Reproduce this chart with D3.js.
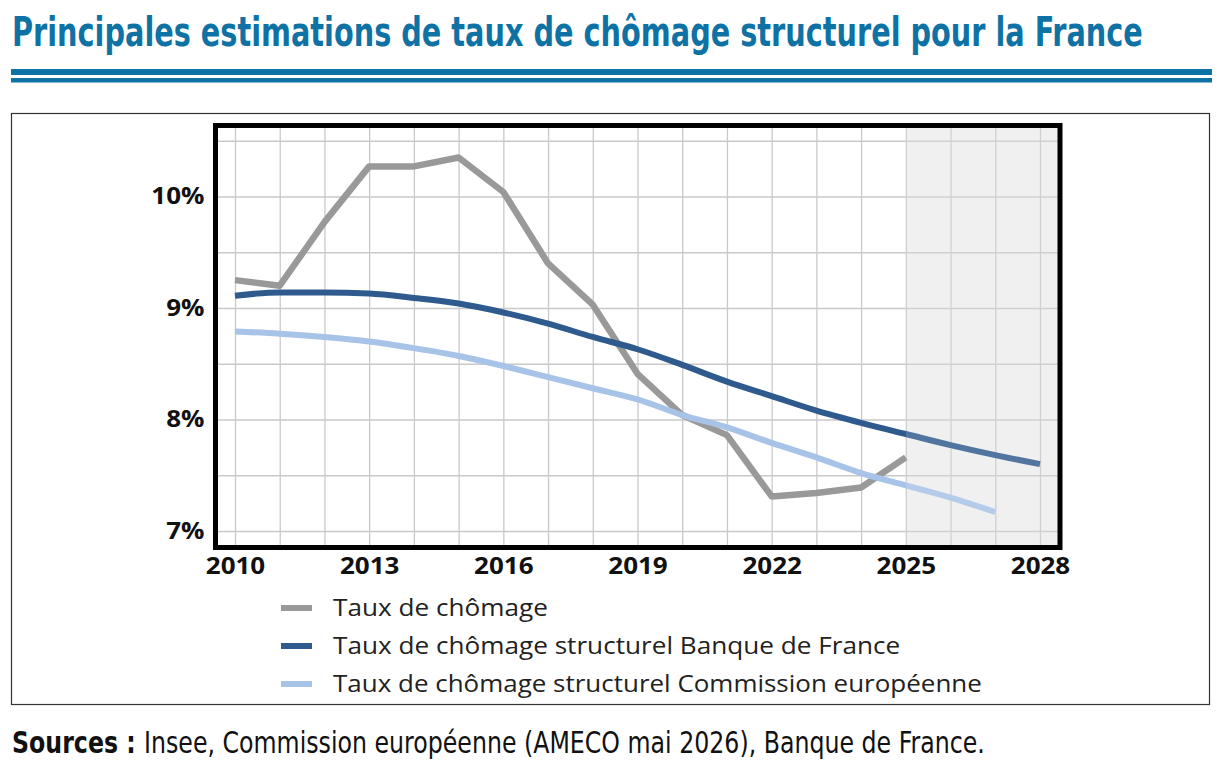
<!DOCTYPE html>
<html lang="fr">
<head>
<meta charset="utf-8">
<script src="https://cdn.jsdelivr.net/npm/d3@7"></script>
<style>
  body { margin: 0; background: #fff; }
  svg { display: block; }
</style>
</head>
<body>
<div id="chart"></div>
<script>
// data (values in %)
const annees = [2010, 2011, 2012, 2013, 2014, 2015, 2016, 2017, 2018, 2019, 2020, 2021, 2022, 2023, 2024, 2025, 2026, 2027, 2028];
const tauxChomage = [9.25, 9.20, 9.77, 10.27, 10.27, 10.35, 10.04, 9.40, 9.03, 8.41, 8.04, 7.86, 7.31, 7.34, 7.39, 7.66];
const structurelBdF = [9.11, 9.14, 9.14, 9.13, 9.09, 9.04, 8.96, 8.86, 8.74, 8.63, 8.49, 8.34, 8.21, 8.08, 7.97, 7.87, 7.77, 7.68, 7.60];
const structurelCE = [8.79, 8.77, 8.74, 8.70, 8.64, 8.57, 8.48, 8.38, 8.28, 8.18, 8.04, 7.93, 7.79, 7.66, 7.52, 7.41, 7.30, 7.17];
const xTicks = [2010, 2013, 2016, 2019, 2022, 2025, 2028];
const yTicks = [7, 8, 9, 10];
const yGrid = [7, 7.5, 8, 8.5, 9, 9.5, 10, 10.5];
const debutPrevision = 2025;

const titre = "Principales estimations de taux de chômage structurel pour la France";
const seriesNoms = ["Taux de chômage", "Taux de chômage structurel Banque de France", "Taux de chômage structurel Commission européenne"];
const seriesCouleurs = ["#999999", "#2e5a8e", "#a7c3e7"];

const W = 1228, H = 778;
const frame = { left: 215.5, right: 1060, top: 125.5, bottom: 547.5 };
const condensed = "'Liberation Sans Narrow', 'DejaVu Sans Condensed', sans-serif";

const svg = d3.select("#chart").append("svg").attr("width", W).attr("height", H);

// squeeze/stretch a text horizontally so it spans `width` px
function fitWidth(g, text, width) {
    const w = text.node().getComputedTextLength();
    const t = g.attr("transform") || "";
    g.attr("transform", t + " scale(" + (width / w) + ",1)");
}

// title + double rule
const gTitre = svg.append("g").attr("transform", "translate(12,46)");
const tTitre = gTitre.append("text")
    .style("font-family", condensed)
    .style("font-weight", "bold").style("font-size", "41px")
    .style("fill", "#0f72a5")
    .text(titre);
fitWidth(gTitre, tTitre, 1131);
svg.append("rect").attr("x", 11).attr("y", 69).attr("width", 1201).attr("height", 6).attr("fill", "#0f72a5");
svg.append("rect").attr("x", 11).attr("y", 78).attr("width", 1201).attr("height", 4.5).attr("fill", "#0f72a5");

// outer box
svg.append("rect").attr("x", 11.5).attr("y", 113.5).attr("width", 1198).attr("height", 591)
    .attr("fill", "none").attr("stroke", "#333").attr("stroke-width", 1.2);

// scales
const x = d3.scaleLinear().domain([2010, 2028]).range([235, 1040]);
const y = d3.scaleLinear().domain([7, 10]).range([531, 196.5]);

// forecast shading
svg.append("rect")
    .attr("x", x(debutPrevision)).attr("y", frame.top)
    .attr("width", frame.right - x(debutPrevision)).attr("height", frame.bottom - frame.top)
    .attr("fill", "#efefef");

// grid
svg.append("g").attr("transform", "translate(0," + frame.bottom + ")")
    .call(d3.axisBottom(x).tickValues(annees).tickSize(-(frame.bottom - frame.top)).tickFormat(""))
    .call(g => g.select(".domain").remove())
    .call(g => g.selectAll("line").attr("stroke", "#c9c9c9").attr("stroke-width", 1.3));
svg.append("g").attr("transform", "translate(" + frame.left + ",0)")
    .call(d3.axisLeft(y).tickValues(yGrid).tickSize(-(frame.right - frame.left)).tickFormat(""))
    .call(g => g.select(".domain").remove())
    .call(g => g.selectAll("line").attr("stroke", "#c9c9c9").attr("stroke-width", 1.3));

// series
const series = [
    { vals: tauxChomage, curve: d3.curveLinear, w: 6.5 },
    { vals: structurelBdF, curve: d3.curveMonotoneX, w: 6 },
    { vals: structurelCE, curve: d3.curveMonotoneX, w: 6 }
];
series.forEach((s, i) => {
    const line = d3.line().x((d, j) => x(annees[j])).y(d => y(d)).curve(s.curve);
    svg.append("path")
        .datum(s.vals)
        .attr("d", line)
        .attr("fill", "none")
        .attr("stroke", seriesCouleurs[i])
        .attr("stroke-width", s.w)
        .attr("stroke-linejoin", "round");
});

// forecast veil (lines look lighter there)
svg.append("rect")
    .attr("x", x(debutPrevision)).attr("y", frame.top)
    .attr("width", frame.right - x(debutPrevision)).attr("height", frame.bottom - frame.top)
    .attr("fill", "#f2f2f2").attr("opacity", 0.18);

// thick frame
svg.append("rect")
    .attr("x", frame.left).attr("y", frame.top)
    .attr("width", frame.right - frame.left).attr("height", frame.bottom - frame.top)
    .attr("fill", "none").attr("stroke", "#000").attr("stroke-width", 5);

// axes labels (the reference glyphs are a bit wider than Open Sans)
const yAxis = svg.append("g").attr("transform", "translate(" + frame.left + ",0)")
    .call(d3.axisLeft(y).tickValues(yTicks).tickSize(0).tickPadding(11).tickFormat(d => d + "%"));
yAxis.select(".domain").remove();
yAxis.selectAll("text")
    .style("font-family", "'Open Sans', sans-serif").style("font-weight", "bold")
    .style("font-size", "23px").attr("fill", "#111")
    .each(function () { this.setAttribute("textLength", this.getComputedTextLength() * 1.13); })
    .attr("lengthAdjust", "spacingAndGlyphs");

const xAxis = svg.append("g").attr("transform", "translate(0," + frame.bottom + ")")
    .call(d3.axisBottom(x).tickValues(xTicks).tickSize(0).tickPadding(10).tickFormat(d3.format("d")));
xAxis.select(".domain").remove();
xAxis.selectAll("text")
    .style("font-family", "'Open Sans', sans-serif").style("font-weight", "bold")
    .style("font-size", "23px").attr("fill", "#111")
    .each(function () { this.setAttribute("textLength", this.getComputedTextLength() * 1.13); })
    .attr("lengthAdjust", "spacingAndGlyphs");

// legend
const legend = svg.append("g").attr("transform", "translate(281,608)");
seriesNoms.forEach((nom, i) => {
    const row = legend.append("g").attr("transform", "translate(0," + (i * 38) + ")");
    row.append("line").attr("x1", 0).attr("x2", 31).attr("y1", 0).attr("y2", 0)
        .attr("stroke", seriesCouleurs[i]).attr("stroke-width", 6);
    const gt = row.append("g").attr("transform", "translate(52,0)");
    const t = gt.append("text").attr("dy", "0.35em")
        .style("font-family", "'Open Sans', sans-serif").style("font-size", "24px")
        .attr("fill", "#222")
        .text(nom);
    // longest label spans 333 -> 982 in the reference
    if (i === 2) fitWidth(gt, t, 649);
    else gt.attr("transform", "translate(52,0) scale(1.09,1)");
});

// sources
const gSrc = svg.append("g").attr("transform", "translate(12,753)");
const src = gSrc.append("text")
    .style("font-family", condensed)
    .style("font-size", "31px").attr("fill", "#111");
src.append("tspan").style("font-weight", "bold").text("Sources : ");
src.append("tspan").text("Insee, Commission européenne (AMECO mai 2026), Banque de France.");
fitWidth(gSrc, src, 973);
</script>
</body>
</html>
